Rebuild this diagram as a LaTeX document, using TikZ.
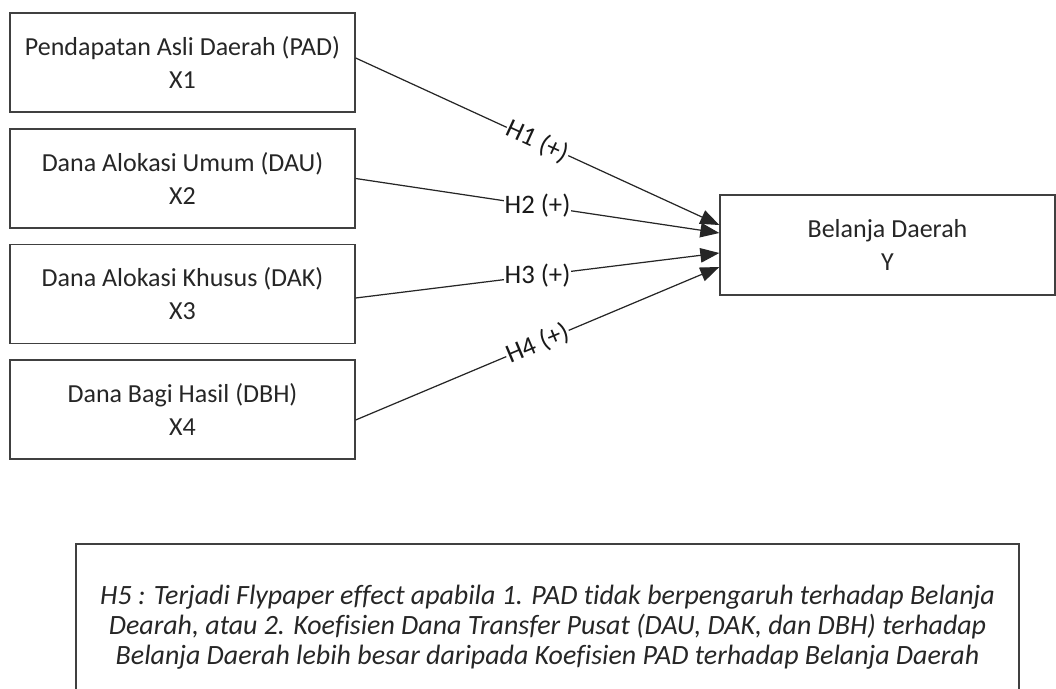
\documentclass[tikz,border=0pt]{standalone}
\usepackage{fontspec}
\setmainfont{Carlito}[Ligatures=NoCommon]
\usetikzlibrary{arrows.meta}

\begin{document}
\begin{tikzpicture}[x=0.02cm, y=0.02cm]
	\tikzset{
		varbox/.style={draw=black!75, line width=0.8pt, minimum width=6.9cm, minimum height=1.98cm,
			align=center, inner sep=0pt, font=\fontsize{14.8}{18.8}\selectfont, text=black!85},
		notebox/.style={draw=black!75, line width=0.8pt, minimum width=18.86cm, minimum height=3.32cm,
			align=center, inner sep=0pt, font=\fontsize{15.9}{17}\selectfont\itshape, text=black!85},
		link/.style={draw=black!85, line width=0.7pt, -{Triangle[length=0.38cm,width=0.29cm]}},
		hyp/.style={fill=white, inner sep=0.5pt, font=\fontsize{15.2}{16}\selectfont, text=black!90}
	}
	\useasboundingbox (0,0) rectangle (1056,-689);
	% variables
	\node [varbox] (x1) at (182.5,-62.5) {Pendapatan Asli Daerah (PAD)\\X1};
	\node [varbox] (x2) at (182.5,-178.5) {Dana Alokasi Umum (DAU)\\X2};
	\node [varbox] (x3) at (182.5,-294) {Dana Alokasi Khusus (DAK)\\X3};
	\node [varbox] (x4) at (182.5,-409.5) {Dana Bagi Hasil (DBH)\\X4};
	\node [varbox, minimum width=6.7cm, minimum height=2cm] (y) at (887.5,-245) {Belanja Daerah\\Y};
	% hypotheses
	\draw [link] ([yshift=0.09cm]x1.east) -- node [hyp, sloped] {H1 (+)} ([yshift=0.4cm]y.west);
	\draw [link] (x2.east) -- node [hyp] {H2 (+)} ([yshift=0.24cm]y.west);
	\draw [link] ([yshift=-0.08cm]x3.east) -- node [hyp] {H3 (+)} ([yshift=-0.16cm]y.west);
	\draw [link] ([yshift=-0.21cm]x4.east) -- node [hyp, sloped] {H4 (+)} ([yshift=-0.44cm]y.west);
	% note
	\node [notebox] (h5) at (547.5,-627) {H5 : Terjadi Flypaper effect apabila 1. PAD tidak berpengaruh terhadap Belanja\\
		Dearah, atau 2. Koefisien Dana Transfer Pusat (DAU, DAK, dan DBH) terhadap\\
		Belanja Daerah lebih besar daripada Koefisien PAD terhadap Belanja Daerah};
\end{tikzpicture}
\end{document}
